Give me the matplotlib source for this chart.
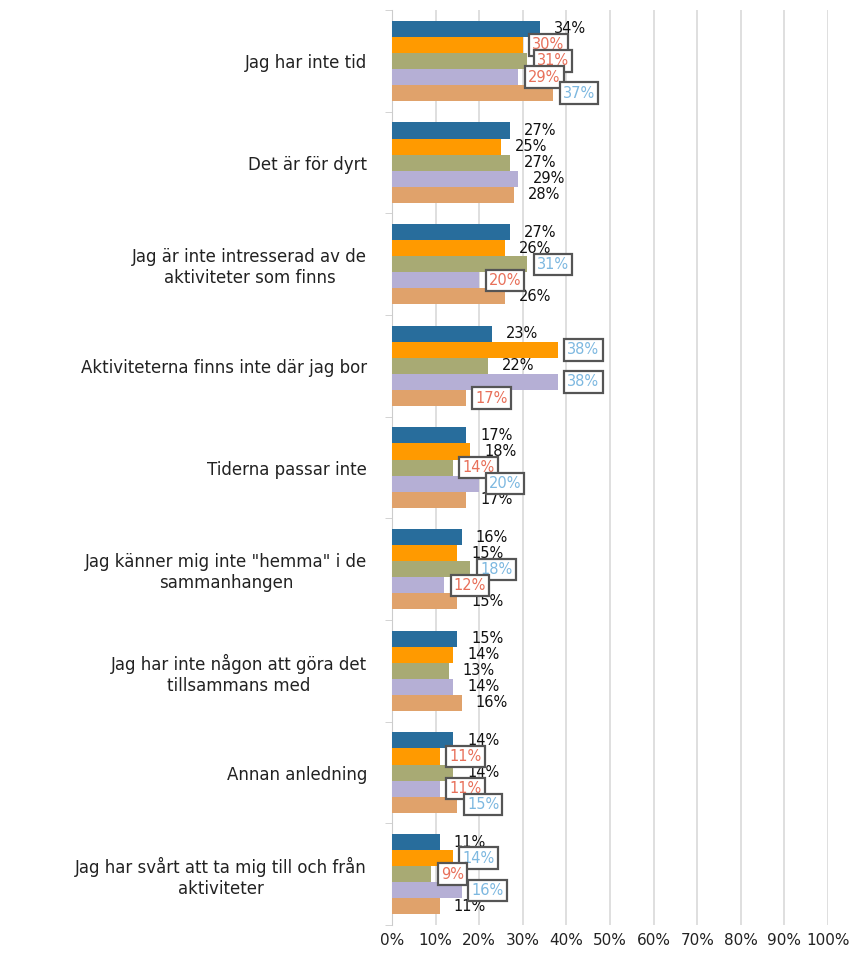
import numpy as np
from matplotlib import pyplot as plt

categories = [
    'Jag har inte tid',
    'Det är för dyrt',
    'Jag är inte intresserad av de\naktiviteter som finns',
    'Aktiviteterna finns inte där jag bor',
    'Tiderna passar inte',
    'Jag känner mig inte "hemma" i de\nsammanhangen',
    'Jag har inte någon att göra det\ntillsammans med',
    'Annan anledning',
    'Jag har svårt att ta mig till och från\naktiviteter',
]

# one list per series, in draw order top to bottom within each group
s1 = [34, 27, 27, 23, 17, 16, 15, 14, 11]
s2 = [30, 25, 26, 38, 18, 15, 14, 11, 14]
s3 = [31, 27, 31, 22, 14, 18, 13, 14, 9]
s4 = [29, 29, 20, 38, 20, 12, 14, 11, 16]
s5 = [37, 28, 26, 17, 17, 15, 16, 15, 11]

# label highlight: 'L' = low (red, boxed), 'H' = high (blue, boxed), '' = plain
f1 = ['', '', '', '', '', '', '', '', '']
f2 = ['L', '', '', 'H', '', '', '', 'L', 'H']
f3 = ['L', '', 'H', '', 'L', 'H', '', '', 'L']
f4 = ['L', '', 'L', 'H', 'H', 'L', '', 'L', 'H']
f5 = ['H', '', '', 'L', '', '', '', 'H', '']

series = [s1, s2, s3, s4, s5]
flags = [f1, f2, f3, f4, f5]
colors = ['#286D9C', '#FF9A00', '#A8AA74', '#B5AFD5', '#E0A26B']
flag_color = {'L': '#E8705A', 'H': '#7DB8E0'}

plt.rcParams['font.family'] = ['DejaVu Sans']

fig = plt.figure(figsize=(8.51, 9.55), dpi=100)
ax = fig.add_axes([0.4606, 0.0314, 0.5124, 0.958])

n = len(categories)
y = np.arange(n)
h = 0.158
for k, (vals, fl, c) in enumerate(zip(series, flags, colors)):
    pos = y - 2 * h + k * h
    ax.barh(pos, vals, height=h, color=c, zorder=3)
    for p, v, f in zip(pos, vals, fl):
        if f:
            ax.text(v + 2.2, p, f'{v}%', va='center', ha='left', fontsize=10.5,
                    color=flag_color[f], zorder=5,
                    bbox=dict(boxstyle='square,pad=0.22', fc='white',
                              ec='#555555', lw=1.6))
        else:
            ax.text(v + 3.2, p, f'{v}%', va='center', ha='left', fontsize=10.5,
                    color='#111111', zorder=4)

ax.set_xlim(0, 100)
ax.set_ylim(n - 0.5, -0.5)
ax.set_xticks(np.arange(0, 101, 10))
ax.set_xticklabels([f'{t}%' for t in range(0, 101, 10)], fontsize=11, color='#222222')
ax.set_yticks(y)
ax.set_yticklabels(categories, fontsize=12, multialignment='center', color='#222222')
ax.set_yticks(np.arange(-0.5, n, 1), minor=True)
ax.tick_params(axis='y', which='major', length=0, pad=18)
ax.tick_params(axis='y', which='minor', length=5, color='#cccccc', direction='out')
ax.tick_params(axis='x', length=0, pad=6)
ax.grid(axis='x', color='#d9d9d9', linewidth=1.2, zorder=0)
for s in ['top', 'right', 'bottom']:
    ax.spines[s].set_visible(False)
ax.spines['left'].set_color('#cccccc')

plt.savefig('out.png', dpi=100)
